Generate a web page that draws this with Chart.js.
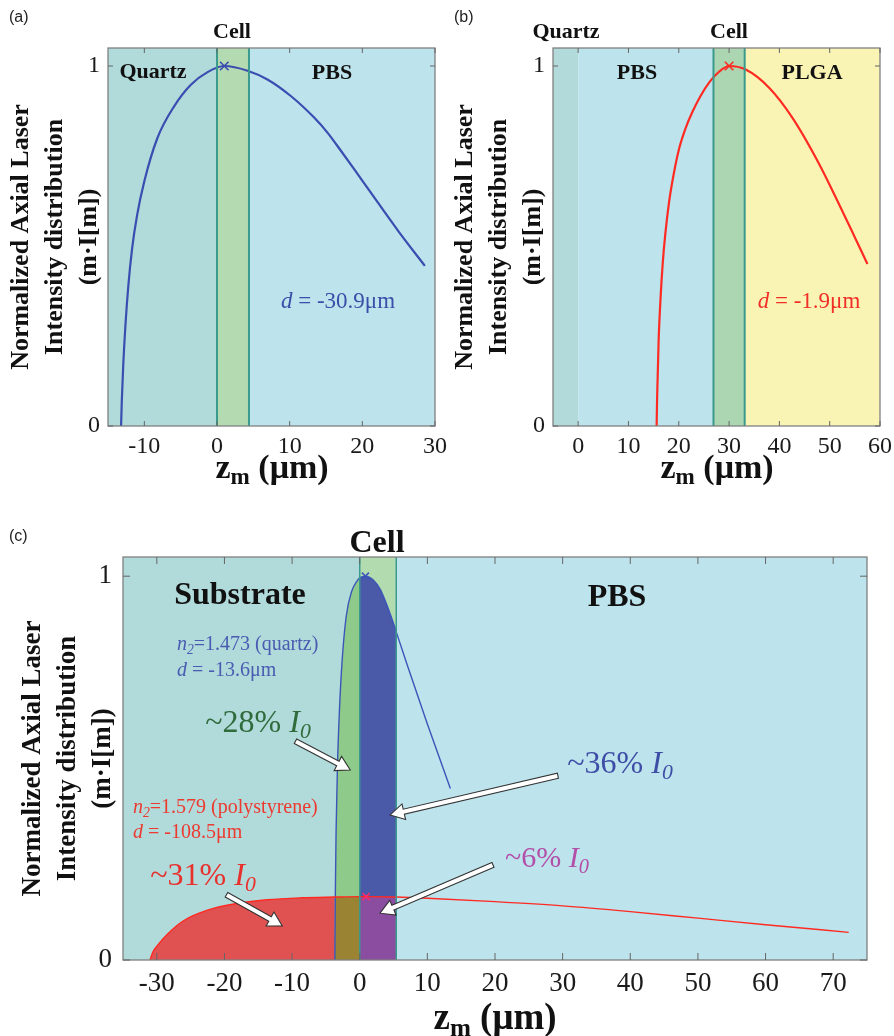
<!DOCTYPE html>
<html><head><meta charset="utf-8">
<script src="https://cdn.jsdelivr.net/npm/chart.js@4.4.1/dist/chart.umd.min.js"></script>
<style>
html,body{margin:0;padding:0;background:#fff}
body{width:894px;height:1036px;position:relative;overflow:hidden}
canvas{position:absolute}
.t{position:absolute;transform:translate(-50%,-50%);white-space:nowrap;font-family:'Liberation Serif','Times New Roman',serif;line-height:1}
.l{transform:translate(0,-50%)}
.b{font-weight:700;color:#111}
.pl{position:absolute;font-family:'Liberation Sans',Arial,sans-serif;font-size:16px;color:#222;line-height:1}
sub{font-size:0.68em;vertical-align:-0.28em;line-height:0}
i{font-style:italic}
</style></head><body>

<canvas id="ca" style="left:0;top:0" width="447" height="490"></canvas>
<canvas id="cb" style="left:447px;top:0" width="447" height="490"></canvas>
<canvas id="cc" style="left:0;top:520px" width="894" height="516"></canvas>

<div class="pl" style="left:9px;top:9px">(a)</div>
<div class="pl" style="left:454px;top:9px">(b)</div>
<div class="pl" style="left:9px;top:528px">(c)</div>

<!-- panel a labels -->
<div class="t b" style="left:232px;top:31px;font-size:22px">Cell</div>
<div class="t b" style="left:153px;top:71px;font-size:22px">Quartz</div>
<div class="t b" style="left:332px;top:72px;font-size:22px">PBS</div>
<div class="t" style="left:338px;top:300px;font-size:23px;color:#3b4ea8"><i>d</i> = -30.9μm</div>
<div class="t b" style="left:272px;top:467px;font-size:34px">z<sub>m</sub> (μm)</div>

<!-- panel b labels -->
<div class="t b" style="left:566px;top:31px;font-size:22px">Quartz</div>
<div class="t b" style="left:729px;top:31px;font-size:22px">Cell</div>
<div class="t b" style="left:637px;top:72px;font-size:22px">PBS</div>
<div class="t b" style="left:812px;top:72px;font-size:22px">PLGA</div>
<div class="t" style="left:809px;top:300px;font-size:23px;color:#f03028"><i>d</i> = -1.9μm</div>
<div class="t b" style="left:717px;top:467px;font-size:34px">z<sub>m</sub> (μm)</div>

<!-- panel c labels -->
<div class="t b" style="left:377px;top:541px;font-size:32px">Cell</div>
<div class="t b" style="left:240px;top:593px;font-size:32px">Substrate</div>
<div class="t b" style="left:617px;top:595px;font-size:32px">PBS</div>
<div class="t l" style="left:177px;top:643px;font-size:20px;color:#4a5cb2"><i>n<sub>2</sub></i>=1.473 (quartz)</div>
<div class="t l" style="left:177px;top:669px;font-size:20px;color:#4a5cb2"><i>d</i> = -13.6μm</div>
<div class="t" style="left:258px;top:721px;font-size:32px;color:#2f6b3b">~28% <i>I<sub>0</sub></i></div>
<div class="t l" style="left:133px;top:806px;font-size:20px;color:#ec3a30"><i>n<sub>2</sub></i>=1.579 (polystyrene)</div>
<div class="t l" style="left:133px;top:831px;font-size:20px;color:#ec3a30"><i>d</i> = -108.5μm</div>
<div class="t" style="left:203px;top:874px;font-size:32px;color:#e8302c">~31% <i>I<sub>0</sub></i></div>
<div class="t" style="left:620px;top:762px;font-size:32px;color:#3e4ea6">~36% <i>I<sub>0</sub></i></div>
<div class="t" style="left:547px;top:857px;font-size:30px;color:#b24fa8">~6% <i>I<sub>0</sub></i></div>
<div class="t b" style="left:495px;top:1016px;font-size:37px">z<sub>m</sub> (μm)</div>

<script>
// ================= DATA =================
const yTickValues = [0, 1];
const yTitle = ['Normalized Axial Laser', 'Intensity distribution', '(m·I[m])'];

// Panel (a)
const xTicksA = [-10, 0, 10, 20, 30];
const layersA = [-15, 0, 4.4, 30];           // Quartz | Cell | PBS
const curveAx = [-13.2, -13.1, -12.9, -12.6, -12.2, -11.7, -11.0, -10.0, -8.2, -5.9, -3.6, -1.3, 1.0, 4.2, 7.0, 10.2, 13.4, 15.2, 17.0, 19.0, 21.0, 25.0, 28.6];
const curveAy = [0, 0.07, 0.17, 0.28, 0.39, 0.49, 0.585, 0.68, 0.80, 0.888, 0.948, 0.983, 1.0, 0.987, 0.962, 0.916, 0.856, 0.815, 0.766, 0.71, 0.653, 0.54, 0.445];
const peakA = [1.0, 1];

// Panel (b)
const xTicksB = [0, 10, 20, 30, 40, 50, 60];
const layersB = [-5, 0, 26.9, 33.1, 60];     // Quartz | PBS | Cell | PLGA
const curveBx = [15.6, 15.7, 16.0, 16.4, 16.8, 17.3, 18.1, 19.0, 20.1, 21.3, 22.7, 24.3, 26.1, 28.0, 30.0, 33.3, 38.0, 42.6, 47.9, 52.0, 55.2, 57.5];
const curveBy = [0, 0.08, 0.239, 0.36, 0.45, 0.53, 0.625, 0.70, 0.772, 0.825, 0.872, 0.916, 0.955, 0.984, 1.0, 0.99, 0.939, 0.856, 0.728, 0.612, 0.518, 0.45];
const peakB = [30.0, 1];

// Panel (c)
const xTicksC = [-30, -20, -10, 0, 10, 20, 30, 40, 50, 60, 70];
const layersC = [-35, 0, 5.4, 75];           // Substrate | Cell | PBS
const quartzCx = [-3.68, -3.62, -3.5, -3.3, -3.0, -2.6, -2.0, -1.2, -0.3, 0, 0.84, 2.0, 3.05, 5.0, 5.4, 7.0, 10.0, 13.4];
const quartzCy = [0, 0.15, 0.33, 0.5, 0.65, 0.78, 0.895, 0.96, 0.99, 0.996, 1.0, 0.99, 0.965, 0.877, 0.855, 0.77, 0.615, 0.447];
const polyCx = [-31.0, -30.6, -29.9, -28.4, -26.0, -22.5, -18.6, -13.7, -8.75, -3.68, 0, 0.94, 5.4, 10, 20, 30, 40, 50, 60, 72.3];
const polyCy = [0, 0.02, 0.038, 0.068, 0.103, 0.13, 0.146, 0.157, 0.162, 0.164, 0.165, 0.165, 0.164, 0.161, 0.152, 0.141, 0.126, 0.109, 0.092, 0.072];
const peakCquartz = [0.84, 1];
const peakCpoly = [0.94, 0.165];

// ================= HELPERS =================
const pts = (xs, ys) => xs.map((x, i) => ({x, y: ys[i]}));
const within = (xs, ys, lo, hi) => pts(xs, ys).filter(p => p.x >= lo && p.x <= hi);
const SERIF = "'Liberation Serif','Times New Roman',serif";

const decor = {
  id: 'decor',
  beforeDatasetsDraw(chart, args, o) {
    const {ctx, chartArea: a, scales: {x}} = chart;
    ctx.save();
    for (let i = 0; i < o.layers.length - 1; i++) {
      const x0 = x.getPixelForValue(o.layers[i]), x1 = x.getPixelForValue(o.layers[i + 1]);
      ctx.fillStyle = o.colors[i];
      ctx.fillRect(x0, a.top, x1 - x0, a.bottom - a.top);
    }
    ctx.restore();
  },
  afterDatasetsDraw(chart, args, o) {
    const {ctx, chartArea: a, scales: {x, y}} = chart;
    ctx.save();
    ctx.strokeStyle = o.cellLine; ctx.lineWidth = o.cellLineWidth;
    o.cellBounds.forEach(v => {
      const p = x.getPixelForValue(v);
      ctx.beginPath(); ctx.moveTo(p, a.top); ctx.lineTo(p, a.bottom); ctx.stroke();
    });
    (o.arrows || []).forEach(ar => {
      const x0 = x.getPixelForValue(ar.from[0]), y0 = y.getPixelForValue(ar.from[1]);
      const x1 = x.getPixelForValue(ar.to[0]), y1 = y.getPixelForValue(ar.to[1]);
      const ang = Math.atan2(y1 - y0, x1 - x0), len = Math.hypot(x1 - x0, y1 - y0);
      const sw = 2.6, hw = 8, hl = 14;
      ctx.save();
      ctx.translate(x0, y0); ctx.rotate(ang);
      ctx.beginPath();
      ctx.moveTo(0, -sw); ctx.lineTo(len - hl, -sw); ctx.lineTo(len - hl, -hw);
      ctx.lineTo(len, 0); ctx.lineTo(len - hl, hw); ctx.lineTo(len - hl, sw); ctx.lineTo(0, sw);
      ctx.closePath();
      ctx.fillStyle = '#ffffff'; ctx.fill();
      ctx.strokeStyle = '#333333'; ctx.lineWidth = 1.1; ctx.stroke();
      ctx.restore();
    });
    ctx.strokeStyle = '#808080'; ctx.lineWidth = 1.3;
    ctx.strokeRect(a.left, a.top, a.right - a.left, a.bottom - a.top);
    const L = o.tickLen;
    ctx.strokeStyle = '#666'; ctx.lineWidth = 1;
    x.ticks.forEach(t => {
      const p = x.getPixelForValue(t.value);
      ctx.beginPath(); ctx.moveTo(p, a.bottom); ctx.lineTo(p, a.bottom - L);
      ctx.moveTo(p, a.top); ctx.lineTo(p, a.top + L); ctx.stroke();
    });
    y.ticks.forEach(t => {
      const p = y.getPixelForValue(t.value);
      ctx.beginPath(); ctx.moveTo(a.left, p); ctx.lineTo(a.left + L, p);
      ctx.moveTo(a.right, p); ctx.lineTo(a.right - L, p); ctx.stroke();
    });
    ctx.restore();
  }
};

function makeChart(id, cfg) {
  return new Chart(document.getElementById(id), {
    type: 'line',
    data: {datasets: cfg.datasets},
    options: {
      responsive: false, animation: false, devicePixelRatio: 1,
      layout: {padding: cfg.padding},
      elements: {point: {radius: 0}, line: {cubicInterpolationMode: 'monotone'}},
      plugins: {legend: {display: false}, tooltip: {enabled: false}, decor: cfg.decor},
      scales: {
        x: {
          type: 'linear', min: cfg.xmin, max: cfg.xmax,
          afterBuildTicks: s => { s.ticks = cfg.xTicks.map(v => ({value: v})); },
          afterFit: s => { s.height = cfg.xHeight; s.paddingLeft = 0; s.paddingRight = 0; },
          grid: {display: false, drawTicks: false}, border: {display: false},
          ticks: {font: {family: SERIF, size: cfg.tickSize}, color: '#1a1a1a', padding: cfg.xTickPad, maxRotation: 0, autoSkip: false}
        },
        y: {
          type: 'linear', min: 0, max: 1.05,
          afterBuildTicks: s => { s.ticks = yTickValues.map(v => ({value: v})); },
          afterFit: s => { s.width = cfg.yWidth; s.paddingTop = 0; s.paddingBottom = 0; },
          grid: {display: false, drawTicks: false}, border: {display: false},
          ticks: {font: {family: SERIF, size: cfg.tickSize}, color: '#1a1a1a', padding: cfg.yTickPad},
          title: {display: true, text: yTitle, color: '#111',
            font: {family: SERIF, size: cfg.titleSize, weight: 'bold', lineHeight: cfg.titleLH},
            padding: {top: cfg.titlePad, bottom: 0}}
        }
      }
    },
    plugins: [decor]
  });
}

const lineDs = (data, color, w, order) => ({data, borderColor: color, borderWidth: w, fill: false, order, pointRadius: 0});
const markDs = (p, color, r) => ({data: [{x: p[0], y: p[1]}], showLine: false, pointStyle: 'crossRot', pointRadius: r, borderColor: color, borderWidth: 1.6, order: 0});
const fillDs = (data, color, order) => ({data, borderWidth: 0, borderColor: 'rgba(0,0,0,0)', backgroundColor: color, fill: 'origin', order, pointRadius: 0});

makeChart('ca', {
  padding: {left: 0, right: 12, top: 48, bottom: 0},
  xmin: -15, xmax: 30, xTicks: xTicksA, xHeight: 64, yWidth: 108,
  tickSize: 24, xTickPad: 6, yTickPad: 8, titleSize: 26, titleLH: 1.29, titlePad: 5,
  datasets: [lineDs(pts(curveAx, curveAy), '#3a4db0', 2.2, 2), markDs(peakA, '#3a4db0', 6)],
  decor: {layers: layersA, colors: ['#b1dada', '#b4dab2', '#bde3ec'], cellBounds: [layersA[1], layersA[2]],
    cellLine: '#3a9a8e', cellLineWidth: 2, tickLen: 5}
});

makeChart('cb', {
  padding: {left: 0, right: 14, top: 48, bottom: 0},
  xmin: -5, xmax: 60, xTicks: xTicksB, xHeight: 64, yWidth: 106,
  tickSize: 24, xTickPad: 6, yTickPad: 8, titleSize: 26, titleLH: 1.29, titlePad: 2,
  datasets: [lineDs(pts(curveBx, curveBy), '#ff2a22', 2.2, 2), markDs(peakB, '#ff2a22', 6)],
  decor: {layers: layersB, colors: ['#b2dada', '#bde3ec', '#acd5b1', '#f9f4b4'], cellBounds: [layersB[2], layersB[3]],
    cellLine: '#3a9a8e', cellLineWidth: 2, tickLen: 5}
});

makeChart('cc', {
  padding: {left: 0, right: 27, top: 37, bottom: 0},
  xmin: -35, xmax: 75, xTicks: xTicksC, xHeight: 76, yWidth: 123,
  tickSize: 27, xTickPad: 8, yTickPad: 11, titleSize: 27, titleLH: 1.3, titlePad: 15,
  datasets: [
    fillDs(within(polyCx, polyCy, -40, -3.68), '#e05252', 10),
    fillDs(within(quartzCx, quartzCy, -3.68, 0), '#8ecb8a', 9),
    fillDs(within(quartzCx, quartzCy, 0, 5.4), '#4a59a8', 9),
    fillDs(within(polyCx, polyCy, -3.68, 0), '#9a8434', 8),
    fillDs(within(polyCx, polyCy, 0, 5.4), '#8a4d9f', 8),
    lineDs(pts(quartzCx, quartzCy), '#3c55b8', 1.4, 3),
    lineDs(pts(polyCx, polyCy), '#ff2a22', 1.4, 2),
    markDs(peakCquartz, '#3c55b8', 5),
    markDs(peakCpoly, '#ff2a6a', 5)
  ],
  decor: {layers: layersC, colors: ['#b1dada', '#b2dbb0', '#bde3ec'], cellBounds: [layersC[1], layersC[2]],
    cellLine: '#3a9a8e', cellLineWidth: 1.5, tickLen: 7,
    arrows: [
      {from: [-9.5, 0.57], to: [-1.4, 0.495]},
      {from: [29.3, 0.48], to: [4.5, 0.378]},
      {from: [19.7, 0.248], to: [3.0, 0.122]},
      {from: [-19.7, 0.17], to: [-11.45, 0.089]}
    ]}
});
</script>
</body></html>
